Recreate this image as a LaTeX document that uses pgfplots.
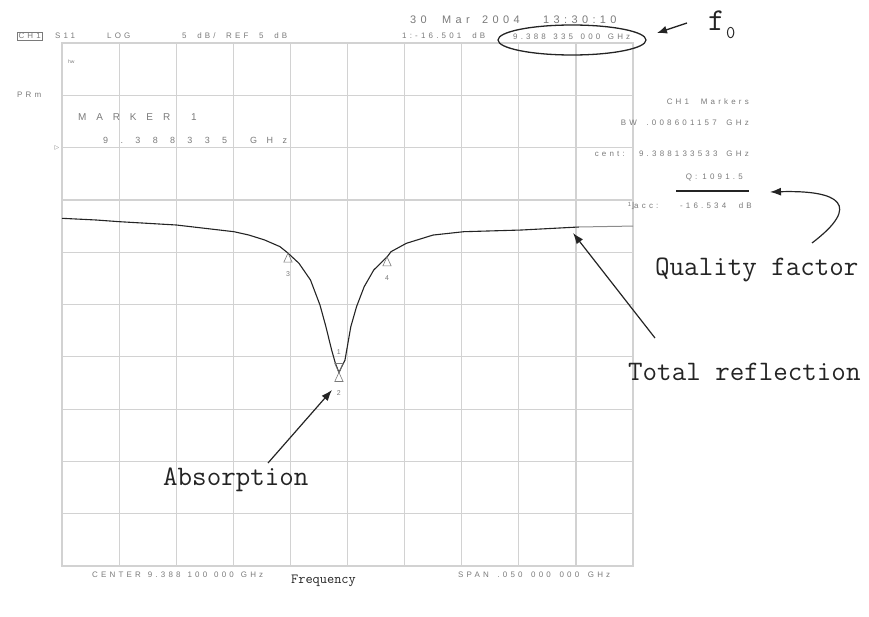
\documentclass[border=0pt]{standalone}
\usepackage{fontspec}
\setmainfont{Liberation Sans}
\usepackage{pgfplots}
\usepackage{pgfplotstable}
\pgfplotsset{compat=1.18}
\usetikzlibrary{arrows.meta}

\definecolor{gridgray}{HTML}{D2D2D2}
\definecolor{hpgray}{HTML}{7A7A7A}
\definecolor{ink}{HTML}{242424}

\newfontfamily\hp{Liberation Sans}[LetterSpace=40]
\newfontfamily\sym{DejaVu Sans}
% analyser screen text: small, grey, tracked out, stretched to a given width
\newcommand\hptext[2]{\makebox[#1][s]{\hp\fontsize{8}{9}\selectfont #2}}
\newcommand\hpsmall{\hp\fontsize{8}{9}\selectfont}
\newcommand\note{\ttfamily\fontsize{28.3}{30}\selectfont}

% S11 trace: offset from centre frequency (MHz) and reflected level (dB)
\pgfplotstableread{
df     dB
-25.00 -1.76
-22.02 -1.92
-20.01 -2.08
-14.98 -2.40
-9.94  -3.04
-8.63  -3.36
-7.26  -3.83
-5.91  -4.47
-5.25  -5.05
-4.25  -6.06
-3.24  -7.66
-2.41  -10.05
-1.89  -12.12
-1.39  -14.35
-1.06  -15.62
-0.75  -16.50
-0.22  -15.31
0.29   -12.12
0.79   -10.21
1.46   -8.30
2.30   -6.70
3.48   -5.43
3.81   -4.95
5.15   -4.15
7.49   -3.36
10.18  -3.04
15.19  -2.88
20.25  -2.59
}\trace

% markers 3, 4 (bandwidth) and 2 sit under the trace, marker 1 above it
\pgfplotstableread{
df    dB     lab
-5.21 -5.09  3
3.46  -5.45  4
-0.75 -16.50 2
}\markersbelow

\begin{document}
\begin{tikzpicture}
\useasboundingbox (0,0) rectangle (869bp,-617bp);
\begin{axis}[
  at={(62bp,-566bp)}, anchor=south west,
  scale only axis, width=571bp, height=523bp,
  xmin=-25, xmax=25, ymin=-35, ymax=15,
  xtick distance=5, ytick distance=5,
  xticklabels={}, yticklabels={},
  major tick length=0pt,
  grid=major,
  grid style={draw=gridgray, line width=1.2bp},
  axis line style={draw=gridgray, line width=1.2bp},
  clip=false,
]
\addplot[ink, line width=1.1bp, mark=none] table[x=df, y=dB] {\trace};
\addplot[black!45, line width=1bp, mark=none] coordinates {(20.25,-2.59) (25,-2.50)};

\addplot[only marks, mark=triangle, mark size=6bp,
  mark options={draw=hpgray, line width=0.6bp, yshift=-6bp, xscale=0.8},
  nodes near coords, point meta=explicit symbolic,
  every node near coord/.append style={anchor=center, yshift=-15bp,
    text=hpgray, font=\fontsize{7}{7}\selectfont}]
  table[x=df, y=dB, meta=lab] {\markersbelow};

\addplot[only marks, mark=triangle, mark size=6bp,
  mark options={draw=hpgray, line width=0.6bp, yshift=6bp, rotate=180, xscale=0.8},
  nodes near coords, point meta=explicit symbolic,
  every node near coord/.append style={anchor=center, yshift=14bp,
    text=hpgray, font=\fontsize{7}{7}\selectfont}]
  coordinates {(-0.75,-16.50) [1]};
\end{axis}

\begin{scope}[x=1bp, y=-1bp, every node/.style={inner sep=0pt, text=hpgray}]
  % date line
  \node[anchor=west] at (410,20) {\hp\fontsize{11}{12}\selectfont 30};
  \node[anchor=west] at (442,20) {\hp\fontsize{11}{12}\selectfont Mar};
  \node[anchor=west] at (482,20) {\hp\fontsize{11}{12}\selectfont 2004};
  \node[anchor=west] at (543,20) {\makebox[80bp][s]{\hp\fontsize{11}{12}\selectfont 13:30:10}};
  % channel header
  \node[anchor=west, draw=hpgray, line width=0.6bp, inner sep=1.2bp] at (17,36) {\hpsmall CH1};
  \node[anchor=west] at (55,36) {\hpsmall S11};
  \node[anchor=west] at (107,36) {\hpsmall LOG};
  \node[anchor=west] at (182,36) {\hptext{105bp}{5 dB/ REF 5 dB}};
  \node[anchor=west] at (402,36) {\hptext{83bp}{1:-16.501 dB}};
  \node[anchor=west] at (513,37) {\hptext{117bp}{9.388 335 000 GHz}};
  % left side of the screen
  \node[anchor=west] at (68,62) {\fontsize{5}{5}\selectfont hw};
  \node[anchor=west] at (17,95) {\hpsmall PRm};
  \node[anchor=west] at (78,117) {\makebox[92bp][s]{\fontsize{10}{11}\selectfont M\hfil A\hfil R\hfil K\hfil E\hfil R}};
  \node[anchor=west] at (191,117) {\fontsize{10}{11}\selectfont 1};
  \node[anchor=west] at (103,140) {\makebox[124bp][s]{\fontsize{9}{10}\selectfont 9\hfil .\hfil 3\hfil 8\hfil 8\hfil 3\hfil 3\hfil 5}};
  \node[anchor=west] at (250,140) {\makebox[37bp][s]{\fontsize{9}{10}\selectfont G\hfil H\hfil z}};
  \node at (57,148) {\sym\fontsize{6}{6}\selectfont ▷};
  % marker readout block
  \node[anchor=east] at (749,102) {\hptext{82bp}{CH1 Markers}};
  \node[anchor=east] at (749,123) {\hptext{128bp}{BW .008601157 GHz}};
  \node[anchor=east] at (749,154) {\hptext{154bp}{cent: 9.388133533 GHz}};
  \node[anchor=east] at (743,177) {\hptext{57bp}{Q: 1091.5}};
  \node[anchor=east] at (752,206) {\hptext{124bp}{\raisebox{2bp}{\fontsize{6}{6}\selectfont 1}{\sym\fontsize{8}{8}\selectfont ⌋}acc: -16.534 dB}};
  % footer
  \node[anchor=west] at (92,575) {\hptext{171bp}{CENTER 9.388 100 000 GHz}};
  \node[anchor=west] at (458,575) {\hptext{152bp}{SPAN .050 000 000 GHz}};
\end{scope}

% annotations
\begin{scope}[x=1bp, y=-1bp, every node/.style={inner sep=0pt, text=ink}]
  \draw[ink, line width=1.5bp] (676,191) -- (749,191);
  \draw[ink, line width=1.3bp] (572,40) ellipse (74 and 15);
  \draw[ink, line width=1.3bp, -{Latex[length=10bp, width=8bp]}] (687,23) -- (657,33);
  \node[anchor=base west] at (708,30) {\ttfamily\fontsize{32}{34}\selectfont f};
  \node[anchor=base west] at (726,38) {\ttfamily\fontsize{18}{20}\selectfont 0};
  \draw[ink, line width=1.2bp, -{Latex[length=11bp, width=8bp]}]
    (812,243) .. controls (862,205) and (840,190) .. (770,192);
  \node[anchor=base west] at (655,275) {\note Quality factor};
  \draw[ink, line width=1.2bp, -{Latex[length=11bp, width=8bp]}] (655,338) -- (573,233);
  \node[anchor=base west] at (628,380) {\note Total reflection};
  \draw[ink, line width=1.2bp, -{Latex[length=11bp, width=8bp]}] (268,463) -- (332,390);
  \node[anchor=base west] at (163,485) {\note Absorption};
  \node[anchor=base west] at (291,583) {\ttfamily\fontsize{14}{16}\selectfont Frequency};
\end{scope}
\end{tikzpicture}
\end{document}
